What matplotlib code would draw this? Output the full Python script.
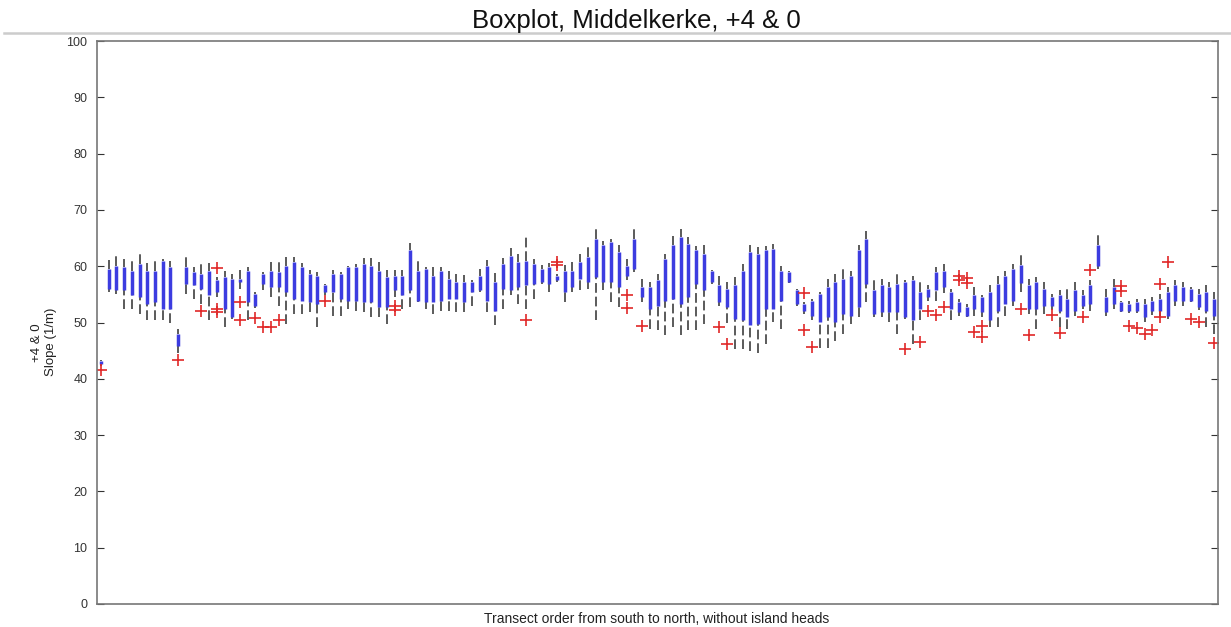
import matplotlib
matplotlib.use('Agg')
import matplotlib.pyplot as plt
from matplotlib.lines import Line2D
import numpy as np

plt.rcParams['font.family'] = ['Liberation Sans', 'DejaVu Sans']

# per transect: upper whisker, q3, q1, lower whisker (slope, 1/m)
whi = [43.4, 61.1, 61.9, 61.3, 61.0, 62.1, 60.5, 61.1, 61.3, 60.9,
       48.9, 61.7, 59.8, 60.5, 60.5, 58.0, 59.1, 58.6, 59.3, 59.9,
       55.4, 58.9, 60.7, 60.9, 61.7, 61.7, 60.5, 59.3, 58.9, 56.9,
       59.3, 58.9, 60.1, 60.4, 61.4, 61.4, 60.7, 59.3, 59.3, 59.3,
       64.1, 60.9, 59.9, 59.8, 59.8, 59.2, 58.6, 58.5, 57.5, 59.5,
       61.1, 58.8, 61.5, 63.3, 62.2, 65.7, 61.3, 60.3, 60.5, 58.6,
       60.2, 60.7, 62.2, 63.5, 66.6, 64.4, 64.9, 63.7, 61.3, 66.6,
       57.8, 57.2, 58.6, 62.2, 65.4, 66.6, 65.1, 63.5, 63.8, 59.4,
       58.3, 57.2, 58.0, 60.4, 63.7, 63.4, 63.5, 64.0, 60.1, 59.1,
       56.0, 53.6, 54.2, 55.4, 57.8, 58.6, 59.5, 59.2, 63.8, 66.3,
       57.5, 57.8, 57.2, 59.1, 57.6, 58.3, 57.2, 56.6, 59.9, 60.4,
       56.0, 54.2, 53.3, 56.3, 54.8, 56.6, 58.3, 59.2, 60.4, 62.0,
       57.8, 58.0, 57.2, 55.1, 55.7, 56.0, 57.2, 55.7, 57.5, 66.0,
       56.0, 57.8, 53.9, 53.9, 54.2, 54.2, 54.5, 55.1, 56.3, 57.5,
       57.2, 56.3, 56.0, 56.6, 55.4]
q3 = [43.1, 59.5, 60.1, 59.8, 59.2, 60.4, 59.2, 59.2, 61.0, 59.8,
      48.0, 59.8, 58.9, 58.6, 59.2, 57.5, 58.0, 57.8, 57.8, 59.2,
      55.1, 58.6, 59.2, 58.9, 60.1, 60.7, 59.8, 58.6, 58.3, 56.6,
      58.6, 58.6, 59.8, 59.8, 60.4, 60.1, 59.2, 58.0, 58.3, 58.3,
      62.8, 59.2, 59.5, 58.3, 59.2, 57.8, 57.2, 57.2, 57.2, 58.3,
      60.1, 57.2, 60.4, 61.9, 60.7, 61.0, 60.4, 59.5, 59.8, 58.3,
      59.2, 59.2, 60.7, 61.6, 64.9, 63.7, 64.3, 62.5, 60.1, 64.9,
      56.3, 56.3, 57.5, 61.3, 63.7, 65.1, 63.9, 62.8, 62.2, 59.2,
      56.6, 56.0, 56.6, 59.2, 62.5, 62.2, 62.8, 63.1, 59.2, 58.9,
      55.7, 53.2, 53.9, 55.1, 56.3, 57.2, 57.8, 58.3, 62.8, 64.9,
      55.7, 56.6, 56.3, 56.9, 57.2, 57.5, 55.4, 56.0, 58.9, 59.2,
      55.4, 53.6, 52.8, 54.8, 54.5, 55.4, 56.9, 58.3, 59.5, 60.2,
      56.6, 57.2, 56.0, 54.5, 54.8, 54.2, 55.7, 54.8, 56.6, 63.7,
      54.5, 56.3, 53.6, 53.3, 53.6, 53.3, 53.9, 54.2, 55.4, 56.6,
      56.3, 56.0, 55.1, 55.4, 54.2]
q1 = [42.6, 56.0, 55.7, 55.7, 54.8, 54.5, 53.3, 53.6, 52.4, 52.4,
      45.9, 56.9, 56.6, 56.0, 54.8, 55.4, 52.4, 50.9, 57.2, 53.6,
      53.0, 56.9, 56.3, 56.3, 55.4, 54.2, 53.9, 53.6, 53.3, 55.4,
      55.4, 54.2, 53.9, 53.9, 53.6, 53.6, 52.7, 52.7, 55.7, 54.8,
      55.7, 53.9, 53.6, 53.6, 53.9, 54.2, 54.2, 53.6, 55.4, 55.7,
      53.9, 52.1, 56.0, 55.7, 56.3, 56.6, 56.9, 57.2, 56.9, 57.5,
      55.4, 56.3, 57.8, 57.2, 58.0, 57.2, 57.2, 56.3, 58.3, 59.5,
      54.5, 52.4, 53.0, 53.9, 54.2, 53.3, 54.5, 56.9, 55.7, 57.2,
      53.6, 52.7, 50.7, 50.4, 49.5, 49.8, 52.4, 52.4, 53.9, 57.2,
      53.3, 52.1, 51.2, 50.1, 51.0, 50.1, 51.5, 51.2, 52.7, 56.9,
      51.5, 51.8, 51.8, 51.8, 50.9, 50.4, 52.4, 54.5, 55.7, 56.3,
      52.4, 51.8, 51.2, 52.4, 51.8, 50.4, 52.1, 53.3, 53.9, 57.0,
      52.4, 52.4, 53.0, 53.0, 52.1, 50.9, 52.1, 53.0, 53.3, 60.1,
      51.8, 53.3, 52.1, 52.1, 52.1, 50.9, 52.1, 52.1, 51.2, 53.9,
      53.9, 53.9, 52.7, 52.1, 51.2]
wlo = [42.3, 55.5, 55.0, 52.4, 52.4, 51.5, 50.4, 50.4, 50.4, 50.0,
       44.6, 55.0, 54.2, 53.3, 50.4, 54.5, 49.2, 50.6, 56.0, 50.4,
       52.5, 55.7, 54.5, 53.0, 49.8, 51.5, 51.5, 51.8, 49.2, 54.8,
       51.2, 51.2, 52.4, 52.1, 51.8, 50.9, 50.9, 49.8, 54.5, 52.4,
       52.7, 53.6, 52.4, 51.5, 52.1, 52.1, 51.8, 51.8, 53.0, 55.5,
       51.8, 49.5, 52.4, 54.8, 53.3, 52.4, 54.2, 56.9, 55.4, 57.2,
       53.6, 55.4, 55.7, 56.0, 50.4, 55.7, 53.6, 52.7, 57.5, 58.9,
       53.6, 48.9, 48.6, 47.7, 49.2, 47.7, 48.6, 48.6, 49.8, 56.9,
       53.0, 50.0, 45.3, 45.3, 44.9, 44.6, 46.2, 50.1, 48.9, 57.0,
       53.0, 51.5, 50.4, 45.4, 45.4, 46.8, 48.0, 49.8, 50.9, 53.6,
       50.9, 50.9, 50.1, 48.0, 50.6, 46.2, 50.4, 53.9, 53.9, 55.2,
       50.4, 51.2, 50.9, 51.2, 51.0, 49.2, 49.2, 51.2, 53.0, 55.5,
       51.5, 48.9, 51.5, 52.2, 49.2, 48.9, 51.2, 52.4, 52.1, 59.5,
       51.2, 52.4, 51.8, 51.6, 51.6, 50.1, 51.4, 51.2, 50.6, 53.0,
       53.0, 53.6, 52.2, 49.2, 48.0]

# outliers: transect number and value
flier_box = [1, 11, 14, 16, 16, 16, 19, 19, 21, 22, 23, 24, 30, 39, 39,
             56, 60, 60, 69, 69, 71, 81, 82, 92, 92, 93, 105, 107, 108,
             109, 110, 112, 112, 113, 113, 114, 115, 115, 120, 121, 124,
             125, 128, 129, 133, 133, 134, 135, 136, 137, 138, 138, 139,
             142, 143, 145]
flier_val = [41.5, 43.4, 52.1, 59.6, 52.4, 51.8, 53.6, 50.5, 50.8, 49.2,
             49.2, 50.4, 53.9, 53.0, 52.3, 50.4, 60.8, 60.2, 54.8, 52.6,
             49.3, 49.2, 46.1, 55.2, 48.7, 45.6, 45.3, 46.6, 52.0, 51.4,
             52.8, 58.2, 57.5, 57.9, 57.0, 48.4, 49.3, 47.5, 52.4, 47.7,
             51.4, 48.1, 50.9, 59.4, 56.4, 55.6, 49.3, 49.1, 48.0, 48.6,
             56.9, 50.9, 60.7, 50.7, 50.1, 46.4]

pos = np.arange(1, len(q1) + 1)

fig = plt.figure(figsize=(12.31, 6.27), dpi=100)
ax = fig.add_axes([97 / 1231, 23 / 627, 1121 / 1231, 563 / 627])

wcol = '#5a5a5a'
ax.vlines(pos, wlo, q1, colors=wcol, lw=1.4, linestyles=(0, (5, 2)))
ax.vlines(pos, q3, whi, colors=wcol, lw=1.4, linestyles=(0, (5, 2)))
ax.vlines(pos, q1, q3, colors='#3c3ce0', lw=2.5)
ax.plot(flier_box, flier_val, ls='none', marker='+', ms=8, mew=1.2,
        color='#e02828')

ax.set_xlim(0.5, len(q1) + 0.5)
ax.set_ylim(0, 100)
ax.set_yticks(np.arange(0, 101, 10))
ax.set_xticks([])
ax.tick_params(axis='y', direction='in', length=5, right=True, pad=7,
               labelsize=9, colors='#333333', width=0.8)
for s in ax.spines.values():
    s.set_color('#777777')
    s.set_linewidth(1.2)

ax.set_ylabel('+4 & 0\nSlope (1/m)', fontsize=9.5, color='#222222')
ax.yaxis.set_label_coords(-0.036, 0.465)
ax.set_xlabel('Transect order from south to north, without island heads',
              fontsize=10, color='#222222')
ax.xaxis.set_label_coords(0.4996, -0.0145)

fig.add_artist(Line2D([4 / 1231, 1.0], [1 - 33 / 627] * 2,
                      color='#cccccc', lw=1.8))
fig.text(636 / 1231, 1 - 21 / 627, 'Boxplot, Middelkerke, +4 & 0',
         ha='center', va='center', fontsize=18.5, color='#111111')

fig.savefig('out.png', dpi=100)
